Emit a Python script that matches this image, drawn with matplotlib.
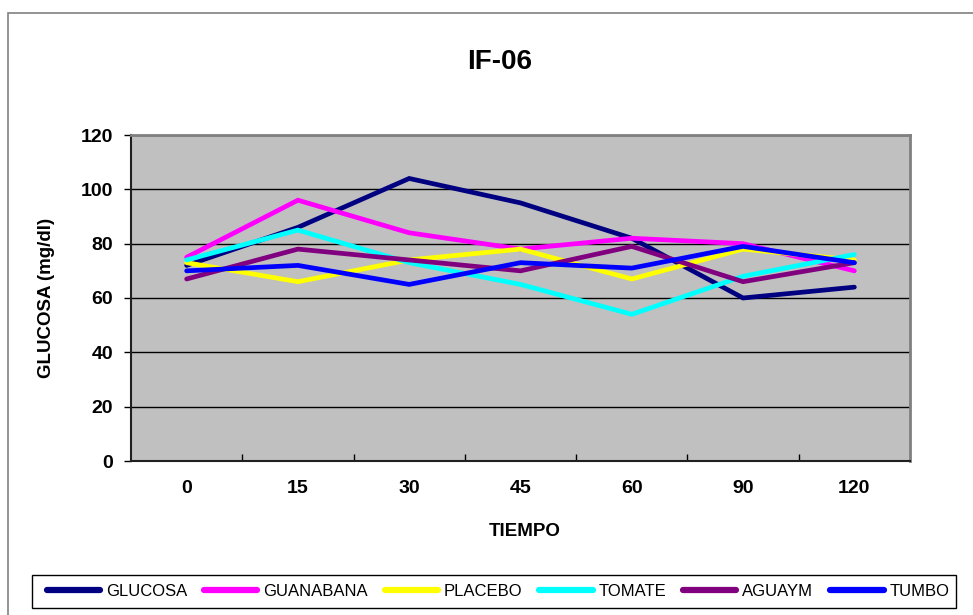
import matplotlib
matplotlib.use("Agg")
import matplotlib.pyplot as plt
from matplotlib.patches import Rectangle
import numpy as np

plt.rcParams['font.family'] = ['Liberation Sans', 'DejaVu Sans']

# data
tiempo = ['0', '15', '30', '45', '60', '90', '120']
glucosa = [72, 86, 104, 95, 82, 60, 64]
guanabana = [75, 96, 84, 78, 82, 80, 70]
placebo = [73, 66, 74, 78, 67, 78, 74]
tomate = [74, 85, 73, 65, 54, 68, 76]
aguaym = [67, 78, 74, 70, 79, 66, 73]
tumbo = [70, 72, 65, 73, 71, 79, 73]

series = [('GLUCOSA', glucosa, '#000080'),
          ('GUANABANA', guanabana, '#FF00FF'),
          ('PLACEBO', placebo, '#FFFF00'),
          ('TOMATE', tomate, '#00FFFF'),
          ('AGUAYM', aguaym, '#800080'),
          ('TUMBO', tumbo, '#0000FF')]

fig = plt.figure(figsize=(9.73, 6.15), dpi=100)

# outer chart border (only left/top visible in the reference)
fig.patches.append(Rectangle((8 / 973, -0.2), 1.2, 1.2 - 13 / 615,
                             transform=fig.transFigure, fill=False,
                             edgecolor='#808080', lw=1.2))

ax = fig.add_axes([131 / 973, 1 - 461 / 615, 779 / 973, 326 / 615])
ax.set_facecolor('#C0C0C0')

x = np.arange(len(tiempo))
for name, vals, col in series:
    ax.plot(x, vals, color=col, lw=3.4, label=name, solid_capstyle='round',
            solid_joinstyle='miter')

ax.set_xlim(-0.5, len(tiempo) - 0.5)
ax.set_ylim(0, 120)
ax.set_yticks(np.arange(0, 121, 20))
ax.yaxis.grid(True, color='black', lw=1.0)
ax.set_axisbelow(True)

ax.set_xticks(x)
ax.set_xticklabels(tiempo)
ax.set_xticks(np.arange(0.5, len(tiempo) - 0.5, 1), minor=True)
ax.tick_params(axis='x', which='major', length=0, pad=14, labelsize=14)
ax.tick_params(axis='x', which='minor', direction='in', length=5, width=1)
ax.tick_params(axis='y', direction='out', length=5, width=1, pad=8, labelsize=14)
for lab in ax.get_xticklabels() + ax.get_yticklabels():
    lab.set_fontweight('bold')

for s in ['top', 'right']:
    ax.spines[s].set_color('#808080')
    ax.spines[s].set_linewidth(2)
for s in ['left', 'bottom']:
    ax.spines[s].set_color('#202020')
    ax.spines[s].set_linewidth(1.5)

fig.text(500 / 973, 1 - 62 / 615, 'IF-06', ha='center', va='center',
         fontsize=20, fontweight='bold')
fig.text(47 / 973, 1 - 298 / 615, 'GLUCOSA (mg/dl)', rotation=90,
         ha='center', va='center', fontsize=13.5, fontweight='bold')
fig.text(525 / 973, 1 - 532 / 615, 'TIEMPO', ha='center', va='center',
         fontsize=13.5, fontweight='bold')

# legend box drawn separately so its edges match the reference
fig.patches.append(Rectangle((32 / 973, 1 - 608 / 615), 924 / 973, 33 / 615,
                             transform=fig.transFigure, fill=False,
                             edgecolor='black', lw=1.0))
leg = fig.legend(loc='center', ncol=6, mode='expand',
                 bbox_to_anchor=(40 / 973, 1 - 608 / 615, 916 / 973, 33 / 615),
                 fontsize=12, handlelength=3.2, handletextpad=0.35,
                 frameon=False, borderaxespad=0, columnspacing=1.0)
for ln in leg.get_lines():
    ln.set_linewidth(4.5)

fig.savefig('out.png', dpi=100)
